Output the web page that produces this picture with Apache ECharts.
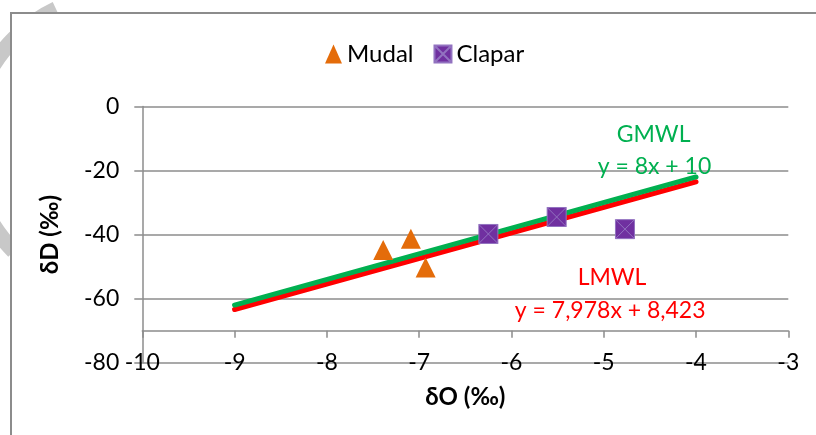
<!DOCTYPE html>
<html>
<head>
<meta charset="utf-8">
<script src="https://cdn.jsdelivr.net/npm/echarts@6/dist/echarts.min.js"></script>
<style>
  html, body { margin: 0; padding: 0; background: #fff; }
  #chart { width: 816px; height: 435px; }
</style>
</head>
<body>
<div id="chart"></div>
<script>
// ---- data ----
const mudalX = [-7.39, -7.09, -6.93];
const mudalY = [-44.8, -41.3, -50.3];
const claparX = [-6.25, -5.51, -4.77];
const claparY = [-39.8, -34.5, -38.3];
const lineX = [-9, -4];
const gmwlY = [-62, -22];
const lmwlY = [-63.38, -23.49];
const xTicks = [-10, -9, -8, -7, -6, -5, -4, -3];
const yTicks = [-80, -60, -40, -20, 0];
const gmwlText = ['GMWL', 'y = 8x + 10'];
const lmwlText = ['LMWL', 'y = 7,978x + 8,423'];

const FONT = 'Lato, "Open Sans", sans-serif';
const GRID_COLOR = '#8c8c8c';
const pairs = (xs, ys) => xs.map((x, i) => [x, ys[i]]);
const squareX = 'path://M0,0 L10,0 L10,10 L0,10 Z M0,0 L10,10 M10,0 L0,10';

const chart = echarts.init(document.getElementById('chart'), null, { renderer: 'canvas' });

const annot = (coord, text, color) => ({
  coord: coord,
  symbol: 'circle',
  symbolSize: 1,
  itemStyle: { color: 'rgba(0,0,0,0)' },
  label: { show: true, position: 'inside', formatter: text, color: color, fontSize: 23, fontFamily: FONT }
});

chart.setOption({
  animation: false,
  backgroundColor: '#fff',
  grid: { left: 142.3, right: 27.7, top: 106.5, bottom: 72.3 },
  legend: {
    left: 320, top: 37,
    itemWidth: 17, itemHeight: 19, itemGap: 20,
    textStyle: { fontSize: 24, fontFamily: FONT, color: '#000' },
    data: ['Mudal', 'Clapar']
  },
  xAxis: {
    type: 'value', min: xTicks[0], max: xTicks[xTicks.length - 1], interval: 1,
    offset: -32,
    name: 'δO (‰)', nameLocation: 'middle', nameGap: 55,
    nameTextStyle: { fontSize: 24, fontWeight: 'bold', fontFamily: FONT, color: '#000' },
    axisLine: { show: true, onZero: false, lineStyle: { color: GRID_COLOR, width: 1.5 } },
    axisTick: { show: true, inside: false, length: 7, lineStyle: { color: GRID_COLOR, width: 1.5 } },
    axisLabel: { margin: 20, fontSize: 23, fontFamily: FONT, color: '#000' },
    splitLine: { show: false }
  },
  yAxis: {
    type: 'value', min: yTicks[0], max: yTicks[yTicks.length - 1], interval: 20,
    name: 'δD (‰)', nameLocation: 'middle', nameGap: 80,
    nameTextStyle: { fontSize: 24, fontWeight: 'bold', fontFamily: FONT, color: '#000' },
    axisLine: { show: true, onZero: false, lineStyle: { color: GRID_COLOR, width: 1.5 } },
    axisTick: { show: true, inside: false, length: 8, lineStyle: { color: GRID_COLOR, width: 1.5 } },
    axisLabel: { margin: 23, fontSize: 23, fontFamily: FONT, color: '#000' },
    splitLine: { show: true, lineStyle: { color: GRID_COLOR, width: 1.5 } }
  },
  graphic: [
    {
      type: 'arc', silent: true, z: -3,
      shape: { cx: 120, cy: 145, r: 150, startAngle: Math.PI * 0.75, endAngle: Math.PI * 1.36, clockwise: true },
      style: { fill: 'none', stroke: '#c8c8c8', lineWidth: 16 }
    },
    {
      type: 'rect', silent: true, z: -2, left: 10, top: 12,
      shape: { width: 830, height: 450 },
      style: { fill: '#fff', stroke: GRID_COLOR, lineWidth: 2 }
    }
  ],
  series: [
    {
      name: 'LMWL', type: 'line', data: pairs(lineX, lmwlY), symbol: 'none',
      lineStyle: { color: '#FF0000', width: 5, cap: 'round' }, z: 3,
      markPoint: { data: [annot([-4.91, -53.3], lmwlText[0], '#FF0000'), annot([-4.93, -63.6], lmwlText[1], '#FF0000')] }
    },
    {
      name: 'GMWL', type: 'line', data: pairs(lineX, gmwlY), symbol: 'none',
      lineStyle: { color: '#00B050', width: 5, cap: 'round' }, z: 4,
      markPoint: { data: [annot([-4.46, -8.7], gmwlText[0], '#00B050'), annot([-4.45, -18.9], gmwlText[1], '#00B050')] }
    },
    {
      name: 'Mudal', type: 'scatter', data: pairs(mudalX, mudalY),
      symbol: 'triangle', symbolSize: [20, 20],
      itemStyle: { color: '#E46C0A', opacity: 1 }, z: 5
    },
    {
      name: 'Clapar', type: 'scatter', data: pairs(claparX, claparY),
      symbol: squareX, symbolSize: 19,
      itemStyle: { color: '#7030A0', borderColor: '#9272c0', borderWidth: 1, opacity: 1 }, z: 5
    }
  ]
});
</script>
</body>
</html>
